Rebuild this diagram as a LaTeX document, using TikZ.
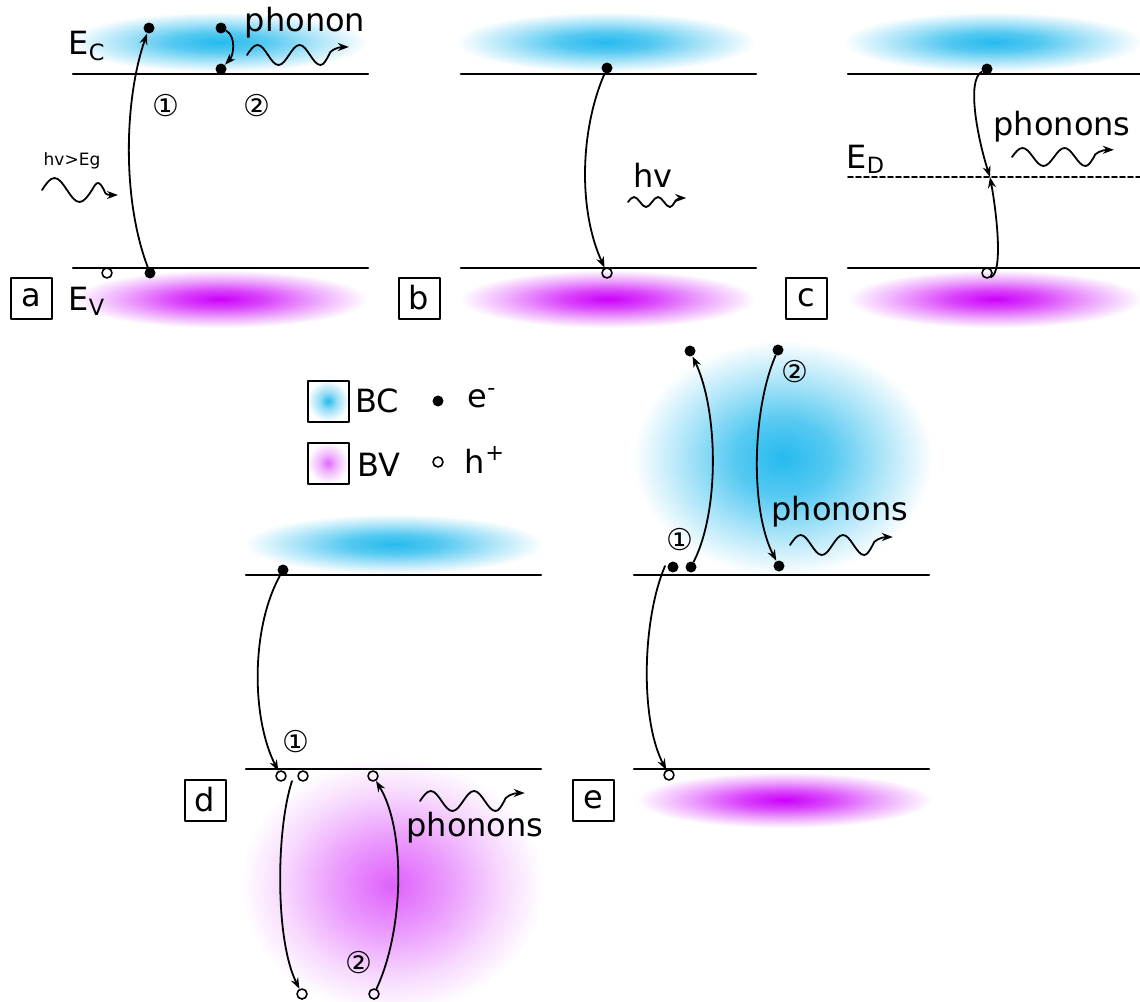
\documentclass[tikz,border=0pt]{standalone}
\usepackage{fontspec}
\setmainfont{DejaVu Sans}
\usetikzlibrary{arrows.meta}
\definecolor{cbblue}{RGB}{38,186,238}
\definecolor{vbviolet}{RGB}{204,0,250}
\pgfdeclareradialshading{cbglow}{\pgfpoint{0bp}{0bp}}{color(0bp)=(cbblue);color(8bp)=(cbblue!78!white);color(16bp)=(cbblue!40!white);color(25bp)=(white);color(50bp)=(white)}
\pgfdeclareradialshading{vbglow}{\pgfpoint{0bp}{0bp}}{color(0bp)=(vbviolet);color(8bp)=(vbviolet!72!white);color(16bp)=(vbviolet!36!white);color(25bp)=(white);color(50bp)=(white)}
\pgfdeclareradialshading{vbsoft}{\pgfpoint{0bp}{0bp}}{color(0bp)=(vbviolet!62!white);color(9bp)=(vbviolet!40!white);color(18bp)=(vbviolet!15!white);color(25bp)=(white);color(50bp)=(white)}
\pgfdeclareradialshading{cbleg}{\pgfpoint{0bp}{0bp}}{color(0bp)=(cbblue);color(10bp)=(cbblue!50!white);color(25bp)=(white);color(50bp)=(white)}
\pgfdeclareradialshading{vbleg}{\pgfpoint{0bp}{0bp}}{color(0bp)=(vbviolet!60!white);color(10bp)=(vbviolet!30!white);color(25bp)=(white);color(50bp)=(white)}
% phonon wave: start, quarter length, amplitude
\newcommand{\phwave}[3]{\draw[trans] (#1) sin ++(#2,-#3) cos ++(#2,#3) sin ++(#2,#3) cos ++(#2,-#3)
  sin ++(#2,-#3) cos ++(#2,#3) sin ++(#2,#3) cos ++(0.8*#2,-#3)
  .. controls +(0,-0.4*#3) and +(-0.5*#2,0) .. ++(1.3*#2,-0.8*#3) -- ++(0.6*#2,0);}
\begin{document}
\begin{tikzpicture}[x=0.5pt,y=-0.5pt,line join=round,line cap=round,>={Stealth[length=5.5pt,width=4pt]},
  font=\fontsize{16}{19}\selectfont,
  lvl/.style={line width=1.1pt},
  elec/.style={circle,fill=black,inner sep=0pt,minimum size=5.5pt},
  hole/.style={circle,draw,line width=0.8pt,inner sep=0pt,minimum size=5pt},
  trans/.style={->,line width=0.9pt},
  tag/.style={draw,line width=1pt,minimum size=20.5pt,inner sep=0pt},
  legbox/.style={draw,line width=1pt,minimum size=20.5pt,inner sep=0pt,shade},
  num/.style={font=\fontsize{15}{15}\selectfont,inner sep=0pt}]
\useasboundingbox (0,0) rectangle (1140,1001);
% top row: a, b, c
\foreach \px/\tg in {0/a,388/b,775/c}{
  \shade[shading=cbglow] (\px+218,42) ellipse [x radius=150,y radius=30];
  \shade[shading=vbglow] (\px+220,299) ellipse [x radius=148,y radius=29];
  \draw[lvl] (\px+73,74) -- (\px+368,74);
  \draw[lvl] (\px+73,268) -- (\px+368,268);
  \node[tag] (tag\tg) at (\px+31,298) {\tg};
}
% bottom row: d, e
\shade[shading=cbglow] (394,544) ellipse [x radius=150,y radius=30];
\shade[shading=vbsoft] (392,885) ellipse [x radius=152,y radius=128];
\shade[shading=cbglow] (783,458) ellipse [x radius=150,y radius=118];
\shade[shading=vbglow] (784,800) ellipse [x radius=148,y radius=28];
\foreach \px/\tg in {0/d,388/e}{
  \draw[lvl] (\px+246,575) -- (\px+541,575);
  \draw[lvl] (\px+246,769) -- (\px+541,769);
  \node[tag] (tag\tg) at (\px+205,800) {\tg};
}
% a
\node (aEC) at (87,46) {E\textsubscript{C}};
\node (aEV) at (87,301) {E\textsubscript{V}};
\node[elec] (aE1) at (149,28) {};
\node[elec] (aV1) at (150,273) {};
\node[hole] (aH1) at (107,273) {};
\node[elec] (aE2) at (221,28) {};
\node[elec] (aE3) at (221,69) {};
\draw[trans] (aV1) .. controls (122,200) and (124,100) .. (aE1);
\draw[trans] (aE2) .. controls (236,36) and (234,55) .. (aE3);
\node (aPh) at (305,23) {phonon};
\coordinate (aW0) at (247,55);
\phwave{aW0}{10.5}{10}
\node[num] (aN1) at (166,106) {①};
\node[num] (aN2) at (257,106) {②};
\node[font=\fontsize{8.5}{10}\selectfont] (aHv) at (72,161) {hv>Eg};
\coordinate (aL0) at (42,190);
\draw[trans] (aL0) sin ++(12.5,-12) cos ++(12.5,12) sin ++(12.5,12) cos ++(12.5,-12)
  sin ++(6,-7) cos ++(6,7) .. controls +(1,4) and +(-4,0) .. ++(7,5) -- ++(7,0);
% b
\node[elec] (bE) at (607,68) {};
\node[hole] (bH) at (607,273) {};
\draw[trans] (bE) .. controls (580,130) and (578,210) .. (bH);
\node (bHv) at (653,175) {hv};
\coordinate (bW0) at (628,202);
\phwave{bW0}{6}{5}
% c
\draw[dash pattern=on 2.5pt off 1.5pt,line width=0.8pt] (848,177) -- (1140,177);
\node (cED) at (866,159) {E\textsubscript{D}};
\node[elec] (cE) at (987,69) {};
\node[hole] (cH) at (987,273) {};
\coordinate (cD) at (990,177);
\draw[trans] (cE) .. controls (966,80) and (978,140) .. (cD);
\draw[trans] (cH.south east) .. controls (1003,272) and (997,215) .. (cD);
\node (cPh) at (1062,127) {phonons};
\coordinate (cW0) at (1012,157);
\phwave{cW0}{10.5}{9}
% legend
\node[legbox,shading=cbleg] (lgBC) at (328,401) {};
\node (lgBCt) at (377,401) {BC};
\node[elec] (lgE) at (438,401) {};
\node (lgEt) at (482,398) {e\textsuperscript{-}};
\node[legbox,shading=vbleg] (lgBV) at (328,463) {};
\node (lgBVt) at (379,465) {BV};
\node[hole] (lgH) at (438,462) {};
\node (lgHt) at (485,460) {h\textsuperscript{+}};
% d
\node[elec] (dE) at (283,570) {};
\foreach \n/\x/\y in {1/281/776,2/303/776,3/373/776,4/302/994,5/374/994}
  \node[hole] (dH\n) at (\x,\y) {};
\draw[trans] (dE) .. controls (250,630) and (252,720) .. (dH1);
\coordinate (dS) at (292,781);
\draw[trans] (dS) .. controls (276,830) and (275,940) .. (dH4);
\draw[trans] (dH5) .. controls (404,930) and (406,830) .. (dH3);
\node[num] (dN1) at (296,742) {①};
\node[num] (dN2) at (359,963) {②};
\node (dPh) at (475,828) {phonons};
\coordinate (dW0) at (420,801);
\phwave{dW0}{10.8}{10}
% e
\foreach \n/\x/\y in {1/673/567,2/691/567,3/779/566,4/690/351,5/778/350}
  \node[elec] (eE\n) at (\x,\y) {};
\node[hole] (eH) at (669,775) {};
\coordinate (eS) at (665,566);
\draw[trans] (eS) .. controls (642,620) and (640,720) .. (eH);
\draw[trans] (eE2) .. controls (720,510) and (718,410) .. (eE4);
\draw[trans] (eE5) .. controls (752,410) and (750,510) .. (eE3);
\node[num] (eN1) at (680,540) {①};
\node[num] (eN2) at (795,372) {②};
\node (ePh) at (840,512) {phonons};
\coordinate (eW0) at (790,545);
\phwave{eW0}{10.6}{10}
\end{tikzpicture}
\end{document}
